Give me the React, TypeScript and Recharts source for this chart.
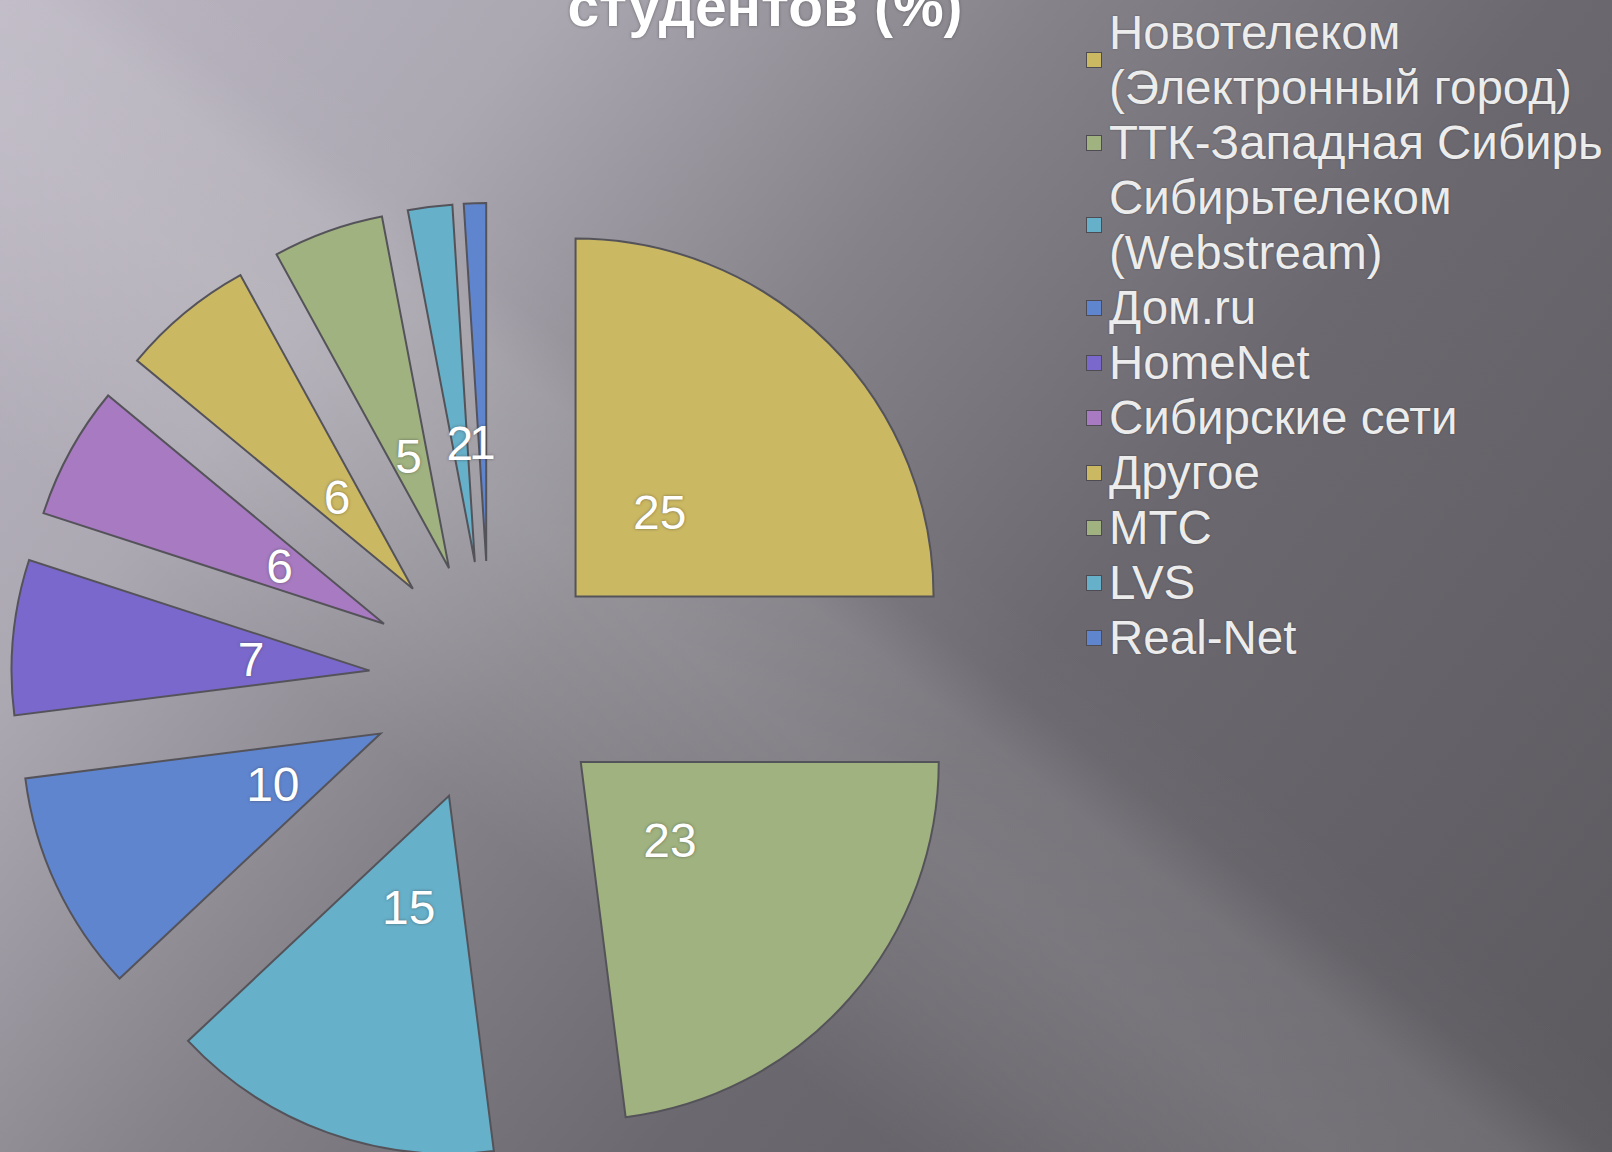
import React from 'react';
import { PieChart, Pie, Cell, Sector, Legend } from 'recharts';

const providers = [
  'Новотелеком (Электронный город)',
  'ТТК-Западная Сибирь',
  'Сибирьтелеком (Webstream)',
  'Дом.ru',
  'HomeNet',
  'Сибирские сети',
  'Другое',
  'МТС',
  'LVS',
  'Real-Net',
];
const shares = [25, 23, 15, 10, 7, 6, 6, 5, 2, 1];
const colors = [
  '#cbb862', '#9fb27f', '#66b0c9', '#6085cf', '#7b68cc',
  '#a77ac1', '#cbb862', '#9fb27f', '#66b0c9', '#6085cf',
];

const RADIAN = Math.PI / 180;
const EXPLODE = 121;
const LABEL_R = 240;

const data = providers.map((name, i) => ({ name, value: shares[i] }));

// each slice pushed out along its own bisector
const ExplodedSector = (props: any) => {
  const { cx, cy, midAngle } = props;
  const dx = EXPLODE * Math.cos(-midAngle * RADIAN);
  const dy = EXPLODE * Math.sin(-midAngle * RADIAN);
  return <Sector {...props} cx={cx + dx} cy={cy + dy} />;
};

const renderLabel = ({ cx, cy, midAngle, value }: any) => {
  const x = cx + LABEL_R * Math.cos(-midAngle * RADIAN);
  const y = cy + LABEL_R * Math.sin(-midAngle * RADIAN);
  return (
    <text
      x={x}
      y={y}
      fill="#ffffff"
      textAnchor="middle"
      dominantBaseline="central"
      fontSize={48}
      fontFamily="'Liberation Sans', Arial, sans-serif"
      style={{ textShadow: '0 0 3px rgba(60,60,60,0.6)' }}
    >
      {value}
    </text>
  );
};

const renderLegend = () => (
  <div style={{ fontFamily: "'Liberation Sans', Arial, sans-serif", fontSize: 47.5, lineHeight: '55px', color: '#ececec' }}>
    {providers.map((name, i) => {
      const cut = name.indexOf(' (');
      const lines = cut > 0 ? [name.slice(0, cut), name.slice(cut + 1)] : [name];
      return (
        <div key={name} style={{ display: 'flex', alignItems: 'center', whiteSpace: 'nowrap' }}>
          <span
            style={{
              width: 14,
              height: 14,
              background: colors[i],
              border: '1px solid #4e4c52',
              marginRight: 7,
              flex: 'none',
            }}
          />
          <div style={{ textShadow: '0 0 2px rgba(40,40,40,0.5)' }}>
            {lines.map((l) => (
              <div key={l}>{l}</div>
            ))}
          </div>
        </div>
      );
    })}
  </div>
);

export default function App() {
  return (
    <div
      style={{
        position: 'fixed',
        left: 0,
        top: 0,
        width: 1612,
        height: 1152,
        overflow: 'hidden',
        background:
          'linear-gradient(38deg, rgba(255,255,255,0) 29%, rgba(255,255,255,0.08) 36%, rgba(255,255,255,0.13) 43%, rgba(255,255,255,0.11) 49%, rgba(255,255,255,0.02) 52%, rgba(255,255,255,0) 56%),' +
          'linear-gradient(128deg, #bab5c1 0%, #aca8b2 22%, #858289 42%, #6b686f 62%, #5c595f 100%)',
      }}
    >
      <div
        style={{
          position: 'absolute',
          left: 0,
          width: 1530,
          top: -34,
          textAlign: 'center',
          fontFamily: "'Liberation Sans', Arial, sans-serif",
          fontWeight: 'bold',
          fontSize: 57,
          lineHeight: '80px',
          color: '#ffffff',
          textShadow: '0 0 3px rgba(40,40,40,0.5)',
        }}
      >
        студентов (%)
      </div>
      <PieChart width={1612} height={1152} margin={{ top: 0, right: 0, bottom: 0, left: 0 }}>
        <Pie
          data={data}
          dataKey="value"
          nameKey="name"
          cx={490}
          cy={682}
          outerRadius={358}
          startAngle={90}
          endAngle={-270}
          stroke="#55535a"
          strokeWidth={2}
          shape={ExplodedSector}
          label={renderLabel}
          labelLine={false}
          isAnimationActive={false}
        >
          {data.map((d, i) => (
            <Cell key={d.name} fill={colors[i]} />
          ))}
        </Pie>
        <Legend
          content={renderLegend}
          layout="vertical"
          verticalAlign="top"
          align="right"
          wrapperStyle={{ left: 1086, top: 5, width: 526 }}
        />
      </PieChart>
    </div>
  );
}
